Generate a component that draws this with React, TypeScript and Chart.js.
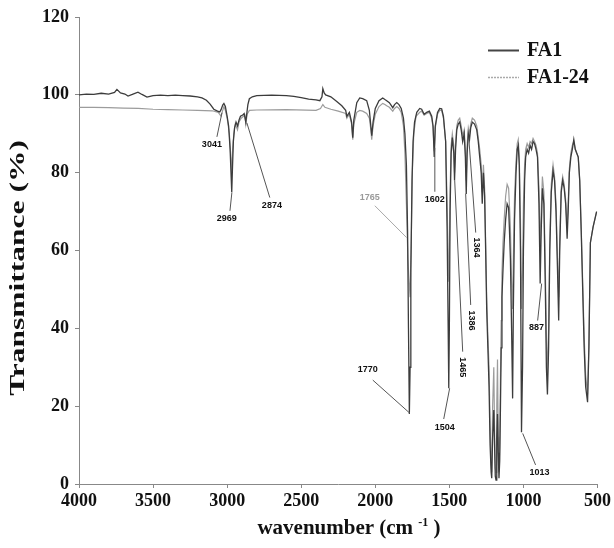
import React, { useEffect, useRef } from "react";
import { Chart, registerables } from "chart.js";

Chart.register(...registerables);

// ---- data (wavenumber cm-1, transmittance %) ----
const FA1_POINTS: [number, number][] = [
  [4000, 100.0], [3950, 100.2], [3900, 100.1], [3850, 100.4], [3800, 100.2], [3760, 100.6], [3744, 101.4],
  [3720, 100.5], [3690, 100.2], [3669, 99.7], [3640, 100.1], [3602, 100.7], [3575, 100.1], [3541, 99.4],
  [3500, 99.8], [3450, 99.9], [3400, 99.8], [3350, 99.9], [3300, 99.8], [3250, 99.7], [3200, 99.5],
  [3170, 99.2], [3140, 98.6], [3115, 97.6], [3090, 96.3], [3065, 95.8], [3050, 95.6], [3041, 96.2],
  [3030, 97.4], [3022, 97.8], [3012, 97.0], [3000, 94.5], [2990, 92.0], [2980, 86.0], [2972, 78.0],
  [2969, 75.0], [2965, 80.0], [2958, 88.0], [2950, 91.5], [2940, 93.0], [2930, 92.0], [2920, 93.5],
  [2910, 94.5], [2895, 94.8], [2885, 95.2], [2874, 93.0], [2868, 95.0], [2860, 97.5], [2850, 99.0],
  [2830, 99.5], [2800, 99.8], [2700, 99.9], [2600, 99.8], [2550, 99.6], [2500, 99.3], [2450, 98.9],
  [2400, 98.7], [2374, 98.5], [2360, 99.5], [2354, 101.6], [2345, 100.5], [2335, 100.0], [2300, 99.5],
  [2260, 98.3], [2226, 97.2], [2200, 96.0], [2192, 94.5], [2175, 95.5], [2160, 93.0], [2152, 89.0],
  [2145, 93.5], [2125, 98.0], [2105, 99.2], [2085, 99.0], [2058, 98.5], [2040, 96.0], [2030, 92.0],
  [2024, 89.5], [2015, 93.0], [2000, 96.5], [1975, 98.5], [1950, 99.2], [1935, 98.8], [1923, 98.5],
  [1905, 98.0], [1882, 96.7], [1870, 97.5], [1855, 98.0], [1840, 97.5], [1825, 96.5], [1810, 94.0],
  [1800, 90.0], [1790, 82.0], [1782, 65.0], [1776, 40.0], [1770, 18.0], [1765, 30.0], [1760, 55.0],
  [1752, 78.0], [1745, 88.0], [1735, 93.0], [1720, 95.5], [1700, 96.5], [1687, 96.3], [1670, 95.0],
  [1653, 95.5], [1635, 95.8], [1619, 94.5], [1610, 92.0], [1602, 84.0], [1595, 92.0], [1580, 95.5],
  [1565, 96.5], [1552, 96.4], [1540, 94.5], [1525, 88.0], [1515, 65.0], [1508, 40.0], [1504, 24.6],
  [1500, 40.0], [1495, 70.0], [1488, 85.0], [1480, 89.0], [1470, 85.0], [1465, 78.0], [1458, 86.0],
  [1450, 91.0], [1440, 92.5], [1430, 93.0], [1420, 91.0], [1410, 88.0], [1400, 90.0], [1392, 84.0],
  [1386, 74.5], [1380, 85.0], [1372, 90.0], [1364, 88.5], [1356, 91.5], [1345, 93.0], [1330, 92.5],
  [1315, 91.0], [1305, 88.0], [1295, 84.0], [1285, 80.0], [1278, 72.0], [1270, 80.0], [1262, 74.0],
  [1255, 60.0], [1248, 45.0], [1240, 35.0], [1232, 25.0], [1225, 10.0], [1218, 3.0], [1214, 1.5],
  [1208, 12.0], [1200, 19.0], [1195, 10.0], [1190, 2.0], [1185, 1.0], [1180, 12.0], [1175, 18.0],
  [1170, 8.0], [1165, 1.5], [1160, 6.0], [1155, 20.0], [1150, 35.0], [1145, 48.0], [1138, 55.0],
  [1130, 62.0], [1120, 68.0], [1110, 72.0], [1100, 71.0], [1095, 66.0], [1088, 58.0], [1080, 40.0],
  [1073, 22.0], [1068, 45.0], [1060, 68.0], [1050, 80.0], [1042, 86.0], [1035, 87.0], [1028, 82.0],
  [1020, 60.0], [1013, 13.3], [1006, 30.0], [1000, 60.0], [992, 78.0], [985, 84.0], [975, 86.0],
  [965, 85.0], [955, 87.0], [945, 86.0], [935, 88.0], [925, 87.5], [915, 86.0], [905, 84.0],
  [895, 72.0], [887, 51.5], [880, 65.0], [872, 76.0], [862, 72.0], [852, 50.0], [845, 30.0],
  [838, 23.0], [830, 35.0], [822, 60.0], [812, 75.0], [800, 80.5], [790, 78.0], [780, 70.0],
  [770, 55.0], [762, 42.0], [755, 60.0], [745, 75.0], [735, 78.0], [725, 76.0], [715, 72.0],
  [705, 63.0], [698, 70.0], [690, 80.0], [680, 84.0], [670, 86.0], [660, 88.5], [650, 86.0],
  [640, 85.0], [630, 84.0], [620, 78.0], [610, 65.0], [600, 50.0], [590, 35.0], [580, 25.0],
  [567, 21.0], [558, 35.0], [548, 62.0], [530, 66.0], [506, 70.0],
];

const FA1_24_POINTS: [number, number][] = [
  [4000, 96.8], [3900, 96.8], [3800, 96.7], [3700, 96.6], [3600, 96.5], [3500, 96.3], [3400, 96.2],
  [3300, 96.1], [3200, 96.0], [3100, 95.9], [3060, 95.5], [3041, 94.5], [3030, 96.0], [3022, 97.0],
  [3012, 96.0], [3000, 94.0], [2985, 90.0], [2975, 84.0], [2969, 80.0], [2963, 86.0], [2955, 90.0],
  [2945, 92.5], [2930, 91.0], [2920, 93.0], [2905, 94.0], [2890, 94.5], [2880, 94.8], [2874, 92.5],
  [2865, 95.0], [2850, 96.0], [2800, 96.1], [2600, 96.2], [2400, 96.0], [2370, 96.5], [2354, 97.5],
  [2340, 96.8], [2300, 96.3], [2250, 95.8], [2200, 95.2], [2192, 94.0], [2175, 95.0], [2160, 92.5],
  [2152, 88.5], [2145, 92.5], [2125, 95.5], [2105, 96.0], [2085, 95.8], [2058, 95.2], [2040, 94.0],
  [2030, 91.0], [2024, 88.5], [2015, 92.0], [2000, 95.0], [1975, 97.0], [1950, 97.8], [1935, 97.5],
  [1923, 97.2], [1905, 96.8], [1882, 95.8], [1870, 96.5], [1855, 97.0], [1840, 96.5], [1825, 95.5],
  [1810, 92.0], [1800, 85.0], [1790, 72.0], [1780, 58.0], [1772, 52.0], [1765, 48.0], [1758, 60.0],
  [1750, 80.0], [1740, 90.0], [1725, 94.5], [1700, 95.5], [1687, 95.8], [1670, 94.8], [1653, 95.2],
  [1635, 95.5], [1619, 94.0], [1610, 91.5], [1602, 85.5], [1595, 91.5], [1580, 95.0], [1565, 96.0],
  [1552, 96.0], [1540, 94.0], [1525, 88.0], [1515, 72.0], [1508, 58.0], [1504, 52.0], [1500, 60.0],
  [1495, 75.0], [1488, 87.0], [1480, 90.0], [1470, 87.0], [1465, 80.0], [1458, 87.5], [1450, 92.0],
  [1440, 93.5], [1430, 94.0], [1420, 92.0], [1410, 89.5], [1400, 91.0], [1392, 86.0], [1386, 78.0],
  [1380, 87.0], [1372, 91.5], [1364, 90.0], [1356, 92.5], [1345, 94.0], [1330, 93.5], [1315, 92.0],
  [1305, 89.0], [1295, 86.0], [1285, 82.0], [1278, 75.0], [1270, 82.0], [1262, 76.0], [1255, 62.0],
  [1248, 48.0], [1240, 38.0], [1232, 30.0], [1225, 15.0], [1218, 5.0], [1214, 3.0], [1208, 20.0],
  [1200, 30.0], [1195, 15.0], [1190, 4.0], [1185, 3.0], [1180, 20.0], [1175, 32.0], [1170, 12.0],
  [1165, 3.0], [1160, 10.0], [1155, 28.0], [1150, 42.0], [1145, 54.0], [1138, 62.0], [1130, 68.0],
  [1120, 74.0], [1110, 77.0], [1100, 76.0], [1095, 72.0], [1088, 66.0], [1080, 52.0], [1073, 45.0],
  [1068, 58.0], [1060, 74.0], [1050, 83.0], [1042, 87.5], [1035, 88.5], [1028, 84.0], [1020, 68.0],
  [1013, 45.0], [1006, 55.0], [1000, 72.0], [992, 82.0], [985, 86.0], [975, 87.5], [965, 86.5],
  [955, 88.0], [945, 87.5], [935, 88.8], [925, 88.0], [915, 87.0], [905, 85.0], [895, 76.0],
  [887, 60.0], [880, 70.0], [872, 79.0], [862, 75.0], [852, 55.0], [845, 38.0], [838, 28.0],
  [830, 40.0], [822, 63.0], [812, 77.0], [800, 82.0], [790, 79.0], [780, 72.0], [770, 58.0],
  [762, 48.0], [755, 63.0], [745, 76.0], [735, 79.0], [725, 77.0], [715, 73.0], [705, 66.0],
  [698, 72.0], [690, 81.0], [680, 85.0], [670, 87.0], [660, 88.0], [650, 86.0], [640, 85.0],
  [630, 84.0], [620, 78.0], [610, 66.0], [600, 52.0], [590, 38.0], [580, 28.0], [567, 23.0],
  [558, 36.0], [548, 62.0], [530, 66.0], [506, 70.0],
];

const SERIES_NAMES = ["FA1", "FA1-24"];
const X_TICKS = [4000, 3500, 3000, 2500, 2000, 1500, 1000, 500];
const Y_TICKS = [0, 20, 40, 60, 80, 100, 120];

// peak labels: text, label anchor (wn, T), leader from (wn, T) to (wn, T)
const PEAK_LABELS = [
  { text: "3041", at: [3103, 87.2], from: [3069, 89.2], to: [3035, 95.4], rot: false, gray: false },
  { text: "2969", at: [3002, 68.2], from: [2981, 70.2], to: [2968, 74.9], rot: false, gray: false },
  { text: "2874", at: [2698, 71.5], from: [2712, 73.6], to: [2867, 92.8], rot: false, gray: false },
  { text: "1765", at: [2037, 73.6], from: [2003, 71.5], to: [1788, 63.3], rot: false, gray: true },
  { text: "1770", at: [2051, 29.5], from: [2017, 26.7], to: [1767, 18.2], rot: false, gray: false },
  { text: "1602", at: [1599, 73.0], from: [1598, 75.1], to: [1598, 86.4], rot: false, gray: false },
  { text: "1504", at: [1531, 14.4], from: [1538, 16.7], to: [1498, 24.6], rot: false, gray: false },
  { text: "1465", at: [1410, 30.0], from: [1410, 34.0], to: [1464, 78.0], rot: true, gray: false },
  { text: "1386", at: [1349, 42.0], from: [1356, 46.0], to: [1390, 74.6], rot: true, gray: false },
  { text: "1364", at: [1315, 60.8], from: [1322, 64.6], to: [1369, 89.0], rot: true, gray: false },
  { text: "887", at: [911, 40.3], from: [904, 42.0], to: [877, 51.5], rot: false, gray: false },
  { text: "1013", at: [891, 3.0], from: [918, 4.9], to: [1005, 13.0], rot: false, gray: false },
];

const SERIF = '"Liberation Serif", "Times New Roman", serif';
const SANS = '"Liberation Sans", Arial, sans-serif';

const overlayPlugin = {
  id: "overlay",
  afterDatasetsDraw(chart: any) {
    const { ctx, scales } = chart;
    const x = scales.x;
    const y = scales.y;
    ctx.save();
    for (const p of PEAK_LABELS) {
      ctx.strokeStyle = p.gray ? "#a8a8a8" : "#555";
      ctx.lineWidth = 1;
      ctx.beginPath();
      ctx.moveTo(x.getPixelForValue(p.from[0]), y.getPixelForValue(p.from[1]));
      ctx.lineTo(x.getPixelForValue(p.to[0]), y.getPixelForValue(p.to[1]));
      ctx.stroke();
      ctx.fillStyle = p.gray ? "#9a9a9a" : "#111";
      ctx.font = `bold 9px ${SANS}`;
      ctx.textAlign = "center";
      ctx.textBaseline = "middle";
      const lx = x.getPixelForValue(p.at[0]);
      const ly = y.getPixelForValue(p.at[1]);
      if (p.rot) {
        ctx.save();
        ctx.translate(lx, ly);
        ctx.rotate(Math.PI / 2);
        ctx.fillText(p.text, 0, 0);
        ctx.restore();
      } else {
        ctx.fillText(p.text, lx, ly);
      }
    }
    ctx.restore();
  },
  afterDraw(chart: any) {
    const { ctx } = chart;
    ctx.save();
    // legend
    ctx.lineWidth = 2;
    ctx.strokeStyle = "#444";
    ctx.beginPath();
    ctx.moveTo(488, 50.5);
    ctx.lineTo(519, 50.5);
    ctx.stroke();
    ctx.strokeStyle = "#aaa";
    ctx.lineWidth = 1.5;
    ctx.setLineDash([2, 1]);
    ctx.beginPath();
    ctx.moveTo(488, 77.5);
    ctx.lineTo(519, 77.5);
    ctx.stroke();
    ctx.setLineDash([]);
    ctx.fillStyle = "#111";
    ctx.font = `bold 20px ${SERIF}`;
    ctx.textAlign = "left";
    ctx.textBaseline = "middle";
    ctx.fillText(SERIES_NAMES[0], 527, 51);
    ctx.fillText(SERIES_NAMES[1], 527, 78);

    // y title (stretched along its length as in the reference)
    ctx.save();
    ctx.translate(19, 268);
    ctx.rotate(-Math.PI / 2);
    ctx.scale(1.5, 1);
    ctx.textAlign = "center";
    ctx.font = `bold 21px ${SERIF}`;
    ctx.fillText("Transmittance (%)", 0, 0);
    ctx.restore();

    // x title with superscript
    const p1 = "wavenumber (cm ";
    const sup = "-1";
    const p2 = " )";
    ctx.font = `bold 21px ${SERIF}`;
    const w1 = ctx.measureText(p1).width;
    const w3 = ctx.measureText(p2).width;
    ctx.font = `bold 12px ${SERIF}`;
    const w2 = ctx.measureText(sup).width;
    const total = w1 + w2 + w3;
    let sx = 349 - total / 2;
    const base = 534;
    ctx.textBaseline = "alphabetic";
    ctx.textAlign = "left";
    ctx.font = `bold 21px ${SERIF}`;
    ctx.fillText(p1, sx, base);
    sx += w1;
    ctx.font = `bold 12px ${SERIF}`;
    ctx.fillText(sup, sx, base - 8);
    sx += w2;
    ctx.font = `bold 21px ${SERIF}`;
    ctx.fillText(p2, sx, base);
    ctx.restore();
  },
};

export default function App() {
  const canvasRef = useRef<HTMLCanvasElement | null>(null);

  useEffect(() => {
    const canvas = canvasRef.current;
    if (!canvas) return;
    const chart = new Chart(canvas, {
      type: "line",
      data: {
        datasets: [
          {
            label: SERIES_NAMES[0],
            data: FA1_POINTS.map(([wx, t]) => ({ x: wx, y: t })),
            borderColor: "#3c3c3c",
            borderWidth: 1.3,
            pointRadius: 0,
            tension: 0,
            fill: false,
          },
          {
            label: SERIES_NAMES[1],
            data: FA1_24_POINTS.map(([wx, t]) => ({ x: wx, y: t })),
            borderColor: "#9c9c9c",
            borderWidth: 1.2,
            pointRadius: 0,
            tension: 0,
            fill: false,
          },
        ],
      },
      options: {
        animation: false,
        responsive: false,
        layout: { padding: { top: 17, right: 16, left: 0, bottom: 0 } },
        plugins: { legend: { display: false }, tooltip: { enabled: false } },
        scales: {
          x: {
            type: "linear",
            reverse: true,
            min: 500,
            max: 4000,
            afterBuildTicks: (s: any) => {
              s.ticks = X_TICKS.map((v) => ({ value: v }));
            },
            afterFit: (s: any) => {
              s.height = 64;
            },
            border: { display: true, color: "#888", width: 1 },
            grid: { drawOnChartArea: false, drawTicks: true, tickLength: 4, color: "#888" },
            ticks: {
              font: { family: SERIF, size: 18, weight: "bold" },
              color: "#111",
              padding: 3,
              maxRotation: 0,
              autoSkip: false,
              callback: (v: any) => String(v),
            },
          },
          y: {
            type: "linear",
            min: 0,
            max: 120,
            afterBuildTicks: (s: any) => {
              s.ticks = Y_TICKS.map((v) => ({ value: v }));
            },
            afterFit: (s: any) => {
              s.width = 79;
            },
            border: { display: true, color: "#888", width: 1 },
            grid: { drawOnChartArea: false, drawTicks: true, tickLength: 4, color: "#888" },
            ticks: {
              font: { family: SERIF, size: 18, weight: "bold" },
              color: "#111",
              padding: 6,
              callback: (v: any) => String(v),
            },
          },
        },
      },
      plugins: [overlayPlugin],
    } as any);
    return () => chart.destroy();
  }, []);

  return (
    <div style={{ position: "absolute", left: 0, top: 0, width: 614, height: 548, background: "#fff" }}>
      <canvas ref={canvasRef} width={614} height={548} style={{ width: 614, height: 548, display: "block" }} />
    </div>
  );
}
